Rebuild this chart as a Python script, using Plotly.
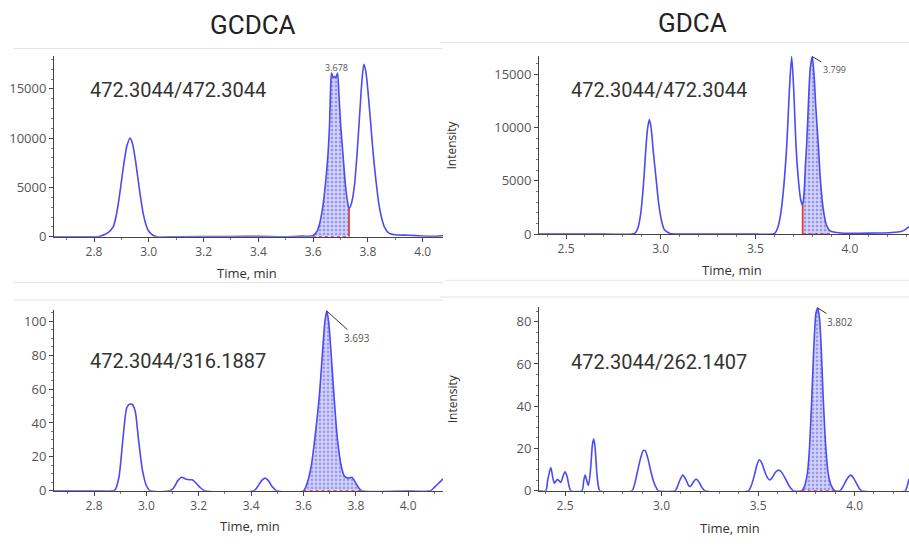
import plotly.graph_objects as go

# ---------------- data ----------------
# Panel 1: GCDCA 472.3044/472.3044
p1_t = [2.654, 2.75, 2.80, 2.818, 2.85, 2.87, 2.88, 2.89, 2.90, 2.91, 2.92, 2.931, 2.94, 2.95, 2.96,
        2.97, 2.98, 2.99, 3.00, 3.015, 3.03, 3.10, 3.30, 3.40, 3.50, 3.56, 3.599, 3.615, 3.625,
        3.635, 3.645, 3.654, 3.66, 3.663, 3.667, 3.673, 3.678, 3.683, 3.689, 3.694, 3.70, 3.709,
        3.717, 3.724, 3.731, 3.74, 3.75, 3.76, 3.77, 3.778, 3.785, 3.792, 3.80, 3.81, 3.82, 3.83,
        3.84, 3.85, 3.86, 3.875, 3.90, 3.95, 4.00, 4.05, 4.074]
p1_y = [0, 0, 0, 30, 400, 1000, 2000, 3600, 5600, 7600, 9200, 10000, 9500, 8000, 6000,
        4000, 2300, 1200, 550, 150, 0, 0, 30, 40, 0, 60, 100, 600, 1500,
        3000, 5400, 8300, 11500, 14500, 16600, 16150, 16250, 16150, 16600, 14500, 11500, 8300,
        5500, 3800, 2870, 3400, 5000, 8300, 12500, 15800, 17500, 16800, 14800, 11500, 8200, 5500,
        3300, 1900, 1000, 400, 200, 150, 80, 50, 120]
p1_window = [3.599, 3.731]

# Panel 2: GDCA 472.3044/472.3044
p2_t = [2.357, 2.5, 2.7, 2.85, 2.865, 2.88, 2.895, 2.905, 2.912, 2.92, 2.93, 2.94, 2.95, 2.96,
        2.975, 2.99, 3.005, 3.02, 3.05, 3.1, 3.3, 3.5, 3.59, 3.604, 3.62, 3.635, 3.65, 3.666,
        3.68, 3.692, 3.703, 3.715, 3.728, 3.74, 3.750, 3.758, 3.765, 3.771, 3.78, 3.79, 3.801,
        3.81, 3.82, 3.833, 3.845, 3.86, 3.875, 3.895, 3.95, 4.05, 4.15, 4.22, 4.27, 4.29, 4.312]
p2_y = [0, 0, 0, 0, 100, 600, 2000, 3800, 5400, 7600, 9800, 10740, 9900, 7900,
        5300, 2800, 1200, 400, 50, 0, 0, 0, 0, 100, 700, 2000, 4400, 8300,
        13500, 16650, 13500, 8300, 5000, 3200, 2700, 4000, 6500, 8300, 12000, 15500, 16650,
        15000, 11800, 8300, 4800, 2200, 900, 300, 100, 80, 100, 150, 250, 400, 700]
p2_window = [3.750, 3.895]

# Panel 3: GCDCA 472.3044/316.1887
p3_t = [2.647, 2.8, 2.87, 2.88, 2.895, 2.91, 2.925, 2.935, 2.945, 2.957, 2.97, 2.985, 3.0, 3.014,
        3.09, 3.105, 3.12, 3.135, 3.15, 3.165, 3.175, 3.19, 3.205, 3.224, 3.41, 3.425, 3.44,
        3.453, 3.466, 3.48, 3.498, 3.60, 3.615, 3.63, 3.645, 3.66, 3.672, 3.682, 3.689, 3.696,
        3.706, 3.718, 3.73, 3.745, 3.757, 3.772, 3.785, 3.80, 3.81, 3.823, 4.0, 4.084, 4.10,
        4.12, 4.133]
p3_y = [0, 0, 0, 0.5, 8, 30, 49, 51, 51, 47, 30, 12, 3, 0,
        0, 2, 6, 8, 7, 6.5, 6.5, 4.5, 2, 0, 0, 2.5, 6,
        7.5, 6, 2.5, 0, 0, 5, 15, 33, 55, 80, 100, 106, 100,
        80, 53, 30, 14, 8.5, 7.5, 8, 4.5, 2, 0, 0, 0, 2,
        5, 7]
p3_window = [3.600, 3.823]

# Panel 4: GDCA 472.3044/262.1407
p4_t = [2.365, 2.40, 2.41, 2.426, 2.437, 2.445, 2.46, 2.478, 2.49, 2.50, 2.51, 2.52, 2.530,
        2.587, 2.597, 2.604, 2.612, 2.621, 2.632, 2.642, 2.649, 2.656, 2.665, 2.672, 2.681,
        2.846, 2.86, 2.875, 2.89, 2.905, 2.915, 2.93, 2.945, 2.96, 2.975, 2.983,
        3.07, 3.08, 3.095, 3.110, 3.125, 3.14, 3.148, 3.16, 3.179, 3.195, 3.21, 3.225,
        3.45, 3.465, 3.48, 3.495, 3.507, 3.52, 3.535, 3.55, 3.562, 3.575, 3.59, 3.605, 3.62,
        3.64, 3.66, 3.683, 3.726, 3.74, 3.755, 3.765, 3.778, 3.79, 3.80, 3.809, 3.818, 3.828,
        3.838, 3.85, 3.862, 3.875, 3.885, 3.899, 3.925, 3.94, 3.96, 3.98, 3.995, 4.01, 4.025,
        4.037, 4.262, 4.272, 4.282]
p4_y = [0, 0, 5, 11, 6, 3.6, 5.4, 4, 7, 9, 7, 2.5, 0,
        0, 5, 7.4, 5, 2.5, 10, 22, 24.5, 20, 8, 2.5, 0,
        0, 3, 9, 15, 19, 19, 15, 9, 4, 1, 0,
        0, 1.5, 5, 7.4, 5.5, 2.5, 2, 3.5, 5.6, 4, 1.5, 0,
        0, 2.5, 7, 12.5, 14.7, 13, 9, 6, 5.1, 6.5, 8.8, 9.8, 9,
        6, 2.5, 0, 0, 2, 8, 18, 43, 70, 84, 86.5, 82, 66,
        43, 22, 9, 3.5, 1.5, 0, 0, 2, 5.5, 7.4, 6, 3.5, 1,
        0, 0, 2, 5.6]
p4_window = [3.726, 3.899]

titles = ["GCDCA", "GDCA"]
transitions = ["472.3044/472.3044", "472.3044/472.3044", "472.3044/316.1887", "472.3044/262.1407"]
peak_labels = ["3.678", "3.799", "3.693", "3.802"]
x_tick_step = [0.2, 0.5, 0.2, 0.5]
y_tick_step = [5000, 5000, 20, 20]
y_minor_step = [1000, 1000, 5, 5]

W, H = 909, 548
LINE = "#4b4bf2"

panels = [
    dict(t=p1_t, y=p1_y, win=p1_window, red_v="end",
         px=(54, 443), py=(240.7, 57), xr=(2.654, 4.074), yr=(0, 18330)),
    dict(t=p2_t, y=p2_y, win=p2_window, red_v="start",
         px=(539, 909), py=(238, 57), xr=(2.357, 4.312), yr=(0, 16700)),
    dict(t=p3_t, y=p3_y, win=p3_window, red_v=None,
         px=(54, 443), py=(499, 315), xr=(2.647, 4.133), yr=(0, 106.7)),
    dict(t=p4_t, y=p4_y, win=p4_window, red_v=None,
         px=(539, 909), py=(499, 312), xr=(2.365, 4.282), yr=(0, 87)),
]

fig = go.Figure()
layout = dict(width=W, height=H, margin=dict(l=0, r=0, t=0, b=0),
              paper_bgcolor="white", plot_bgcolor="white", showlegend=False)

for i, p in enumerate(panels):
    n = i + 1
    sx = "" if n == 1 else str(n)
    xa, ya = "x" + sx, "y" + sx
    t, y = p["t"], p["y"]
    t0, t1 = p["win"]
    # integrated area
    st = [a for a in t if t0 <= a <= t1]
    sy = [b for a, b in zip(t, y) if t0 <= a <= t1]
    fig.add_trace(go.Scatter(
        x=st, y=sy, xaxis=xa, yaxis=ya, mode="lines",
        line=dict(color="rgba(0,0,0,0)", width=0, shape="spline", smoothing=0.7),
        fill="tozeroy", fillcolor="rgba(200,200,252,0.9)",
        fillpattern=dict(shape=".", fgcolor="#5a5ad8", bgcolor="rgba(205,205,252,0.9)",
                         size=4, solidity=0.35),
        hoverinfo="skip"))
    # chromatogram line
    fig.add_trace(go.Scatter(
        x=t, y=y, xaxis=xa, yaxis=ya, mode="lines",
        line=dict(color=LINE, width=1.6, shape="spline", smoothing=0.7)))
    # red baseline of integration
    fig.add_trace(go.Scatter(
        x=[t0, t1], y=[0, 0], xaxis=xa, yaxis=ya, mode="lines",
        line=dict(color="#e0302a", width=1.6, dash="dot")))
    if p["red_v"]:
        tb = t1 if p["red_v"] == "end" else t0
        yb = y[t.index(tb)]
        fig.add_trace(go.Scatter(
            x=[tb, tb], y=[0, yb], xaxis=xa, yaxis=ya, mode="lines",
            line=dict(color="#e0302a", width=1.6)))

    xd = [p["px"][0] / W, min(p["px"][1] / W, 1.0)]
    yd = [(H - p["py"][0]) / H, (H - p["py"][1]) / H]
    layout["xaxis" + sx] = dict(
        domain=xd, range=list(p["xr"]), anchor=ya, tick0=0, dtick=x_tick_step[i],
        tickformat=".1f", showgrid=False, zeroline=False, showline=True,
        linecolor="#444", linewidth=1, ticks="outside", ticklen=4, tickcolor="#444",
        tickfont=dict(family="Open Sans", size=12, color="#555"),
        minor=dict(dtick=0.1, ticks="outside", ticklen=2, tickcolor="#777"))
    layout["yaxis" + sx] = dict(
        domain=yd, range=list(p["yr"]), anchor=xa, tick0=0, dtick=y_tick_step[i],
        tickformat="d",
        showgrid=False, zeroline=False, showline=True, linecolor="#444", linewidth=1,
        ticks="outside", ticklen=4, tickcolor="#444",
        tickfont=dict(family="Open Sans", size=13, color="#555"),
        minor=dict(dtick=y_minor_step[i], ticks="outside", ticklen=2, tickcolor="#777"))

ann = []
def pa(x, y, text, size, family="Roboto", color="#333", angle=0):
    ann.append(dict(x=x / W, y=(H - y) / H, xref="paper", yref="paper", text=text,
                    showarrow=False, textangle=angle,
                    font=dict(family=family, size=size, color=color),
                    xanchor="center", yanchor="middle"))

pa(253, 25, titles[0], 26, color="#222")
pa(692, 23, titles[1], 26, color="#222")
pa(178, 92, transitions[0], 20)
pa(659, 92, transitions[1], 20)
pa(177.5, 367, transitions[2], 20)
pa(658.5, 368, transitions[3], 20)
for (x, y) in [(247, 278), (732, 274), (250, 535), (730, 537)]:
    pa(x, y, "Time, min", 13, family="Open Sans", color="#333")
pa(452, 148, "Intensity", 12, family="Open Sans", color="#333", angle=-90)
pa(452, 406, "Intensity", 12, family="Open Sans", color="#333", angle=-90)

# peak labels (anchored to the apex data point inside the integration window)
def apex(p):
    t0, t1 = p["win"]
    best = max((b, a) for a, b in zip(p["t"], p["y"]) if t0 <= a <= t1)
    return best[1], best[0]

ann.append(dict(x=3.684, y=16600, xref="x", yref="y", text=peak_labels[0], showarrow=False,
                yanchor="bottom", yshift=-3, font=dict(family="Open Sans", size=9, color="#555")))
for n, (dx, dy) in [(2, (22, 13)), (3, (30, 27)), (4, (22, 14))]:
    tx, ty = apex(panels[n - 1])
    sx = str(n)
    ann.append(dict(x=tx, y=ty, xref="x" + sx, yref="y" + sx, text=peak_labels[n - 1],
                    showarrow=True, arrowhead=0, arrowwidth=1, arrowcolor="#333",
                    ax=dx, ay=dy, font=dict(family="Open Sans", size=10 if n != 2 else 9,
                                            color="#555")))
layout["annotations"] = ann

# faint screenshot border lines
shapes = []
for (x0, x1, yy) in [(13, 443, 49.3), (13, 443, 287.3), (440, 909, 43), (446, 909, 285),
                     (13, 443, 305), (440, 909, 302)]:
    shapes.append(dict(type="line", xref="paper", yref="paper", x0=x0 / W, x1=x1 / W,
                       y0=(H - yy) / H, y1=(H - yy) / H, line=dict(color="#e4e4e4", width=1)))
layout["shapes"] = shapes

fig.update_layout(**layout)
fig.write_html("out.html")
